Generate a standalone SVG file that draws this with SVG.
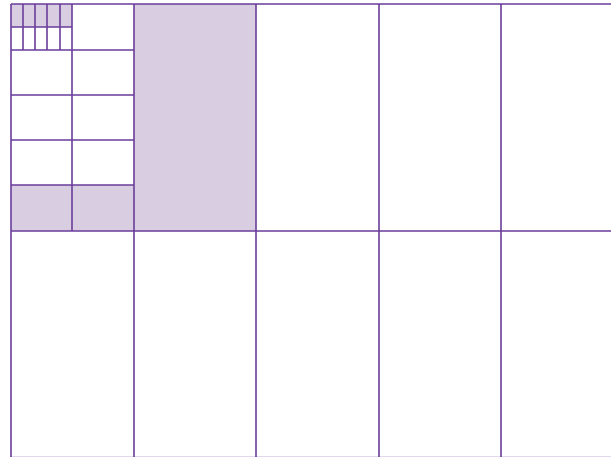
<svg xmlns="http://www.w3.org/2000/svg" width="611" height="457" viewBox="0 0 611 457">
<style>
.f{fill:#d9cde1;stroke:none}
.l{stroke:#6a3d9a;stroke-width:1.6;fill:none}
</style>
<rect width="611" height="457" fill="#fff"/>
<g id="shaded">
<rect class="f" x="134" y="4" width="122" height="227"/>
<rect class="f" x="11" y="185" width="123" height="46"/>
<rect class="f" x="11" y="4" width="61" height="23"/>
</g>
<g id="grid" class="l">
<path d="M11,4H611M11,231H611"/>
<path d="M11,457.3H611" stroke-opacity="0.4"/>
<path d="M11,4V457M134,4V457M256,4V457M379,4V457M501,4V457"/>
<path d="M72,4V231M11,50H134M11,95H134M11,140H134M11,185H134"/>
<path d="M11,27H72M23,4V50M35,4V50M47,4V50M60,4V50"/>
</g>
</svg>
